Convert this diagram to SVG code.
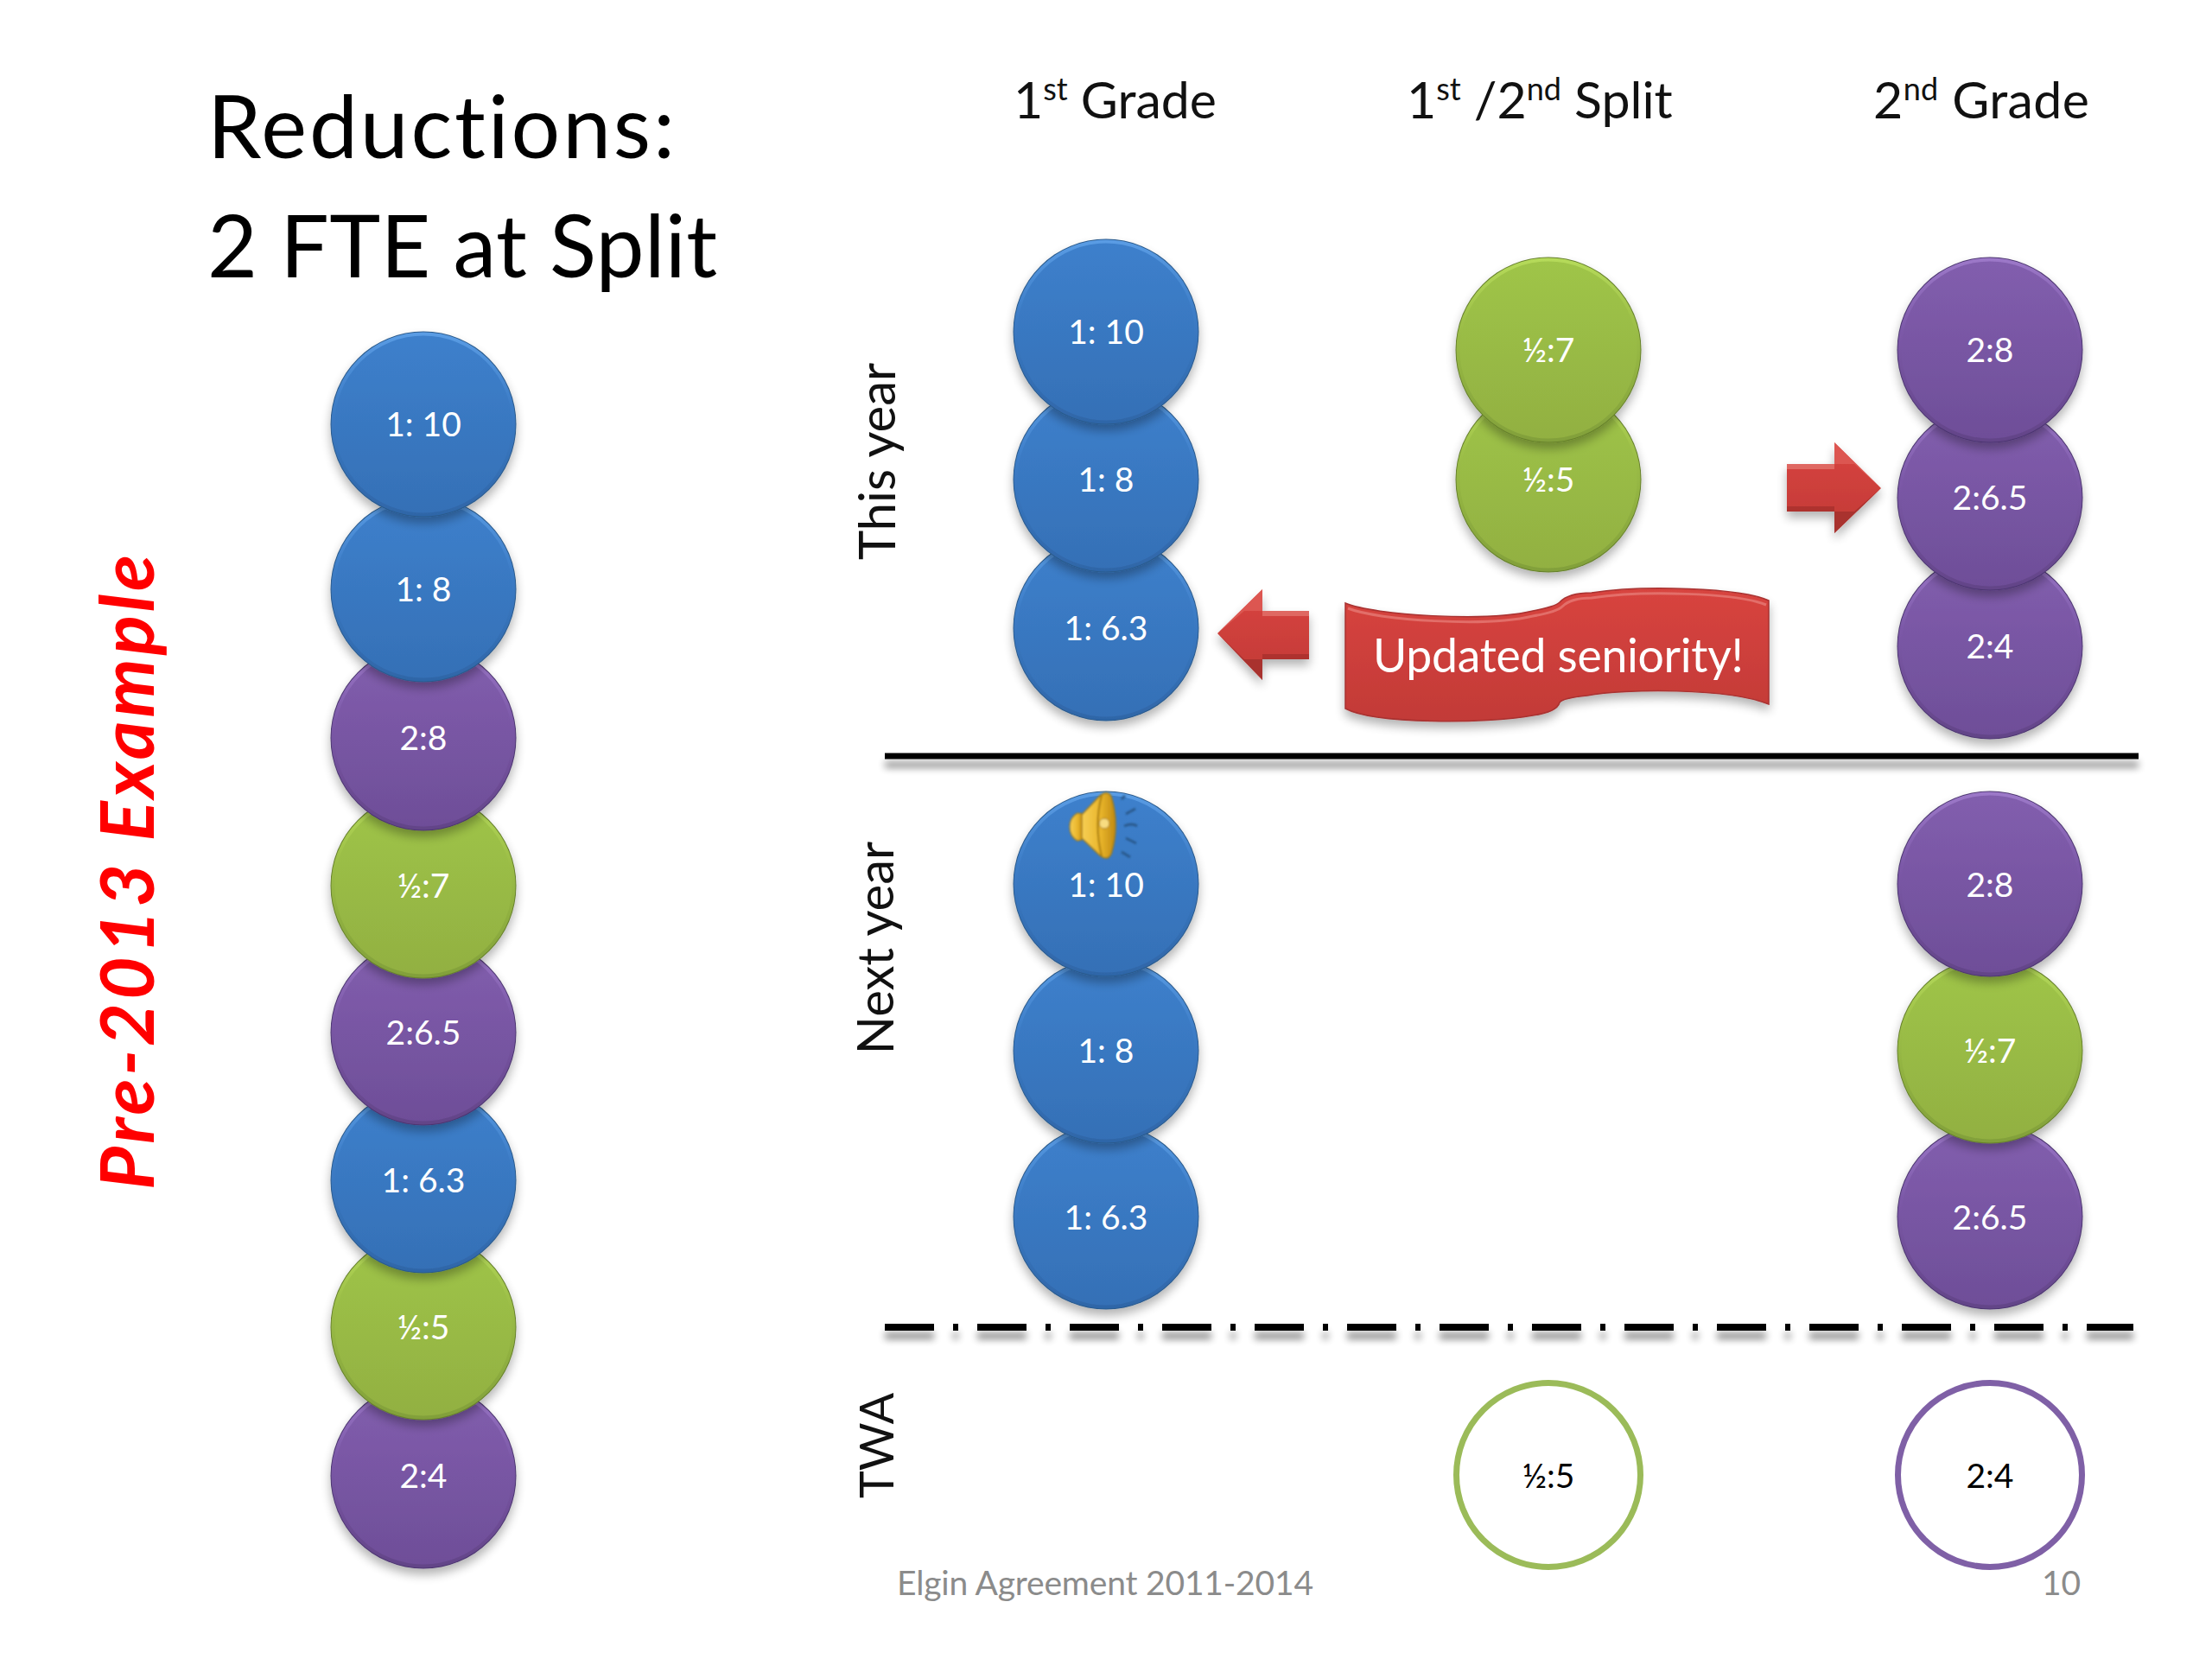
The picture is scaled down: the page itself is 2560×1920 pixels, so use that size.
<svg xmlns="http://www.w3.org/2000/svg" width="2560" height="1920" viewBox="0 0 2560 1920">
<style>
text{font-family:"Lato","Carlito","Open Sans",sans-serif;font-variant-ligatures:none}
.l{font-size:39px;fill:#fff;text-anchor:middle}
.k{font-size:39px;fill:#000;text-anchor:middle}
.h{font-size:59px;fill:#111}
.r{font-size:58px;fill:#111;text-anchor:middle}
.t{font-size:100px;fill:#000}
.f{font-size:39px;fill:#8b8b8b}
.sup{font-size:36px}
.s{filter:url(#soft)}
</style>
<defs>
<filter id="shadow" x="-20%" y="-20%" width="140%" height="140%"><feGaussianBlur in="SourceAlpha" stdDeviation="6"/><feOffset dy="7"/><feComponentTransfer><feFuncA type="linear" slope=".3"/></feComponentTransfer><feMerge><feMergeNode/><feMergeNode in="SourceGraphic"/></feMerge></filter>
<filter id="soft" x="-5%" y="-5%" width="110%" height="110%"><feGaussianBlur stdDeviation=".8"/></filter>
<filter id="lineshadow" x="-2%" y="-200%" width="104%" height="600%"><feGaussianBlur in="SourceAlpha" stdDeviation="4"/><feOffset dy="10"/><feComponentTransfer><feFuncA type="linear" slope=".45"/></feComponentTransfer><feMerge><feMergeNode/><feMergeNode in="SourceGraphic"/></feMerge></filter>
<linearGradient id="bf" x1="0" y1="0" x2="0" y2="1"><stop offset="0" stop-color="#3d80cc"/><stop offset="1" stop-color="#3570b6"/></linearGradient>
<linearGradient id="be" x1="0" y1="0" x2="0" y2="1"><stop offset="0" stop-color="#5a9ce4"/><stop offset=".4" stop-color="#3c7cc6"/><stop offset="1" stop-color="#2f66a8"/></linearGradient>
<linearGradient id="gf" x1="0" y1="0" x2="0" y2="1"><stop offset="0" stop-color="#9fc548"/><stop offset="1" stop-color="#92b042"/></linearGradient>
<linearGradient id="ge" x1="0" y1="0" x2="0" y2="1"><stop offset="0" stop-color="#b5da5a"/><stop offset=".4" stop-color="#9abc46"/><stop offset="1" stop-color="#82a03a"/></linearGradient>
<linearGradient id="pf" x1="0" y1="0" x2="0" y2="1"><stop offset="0" stop-color="#825eae"/><stop offset="1" stop-color="#6e4e98"/></linearGradient>
<linearGradient id="pe" x1="0" y1="0" x2="0" y2="1"><stop offset="0" stop-color="#9c78c8"/><stop offset=".4" stop-color="#7c59a8"/><stop offset="1" stop-color="#634488"/></linearGradient>
<linearGradient id="rf" x1="0" y1="0" x2="0" y2="1"><stop offset="0" stop-color="#d8443f"/><stop offset="1" stop-color="#c23a37"/></linearGradient>
<linearGradient id="gold" x1="0" y1="0" x2="1" y2="0"><stop offset="0" stop-color="#f7cf55"/><stop offset=".55" stop-color="#eab62c"/><stop offset="1" stop-color="#c08a12"/></linearGradient>
<g id="ball-b" filter="url(#shadow)"><circle r="107.5" fill="#2a5a8c"/><circle r="104.5" fill="url(#bf)" stroke="url(#be)" stroke-width="4"/></g>
<g id="ball-g" filter="url(#shadow)"><circle r="107.5" fill="#66802c"/><circle r="104.5" fill="url(#gf)" stroke="url(#ge)" stroke-width="4"/></g>
<g id="ball-p" filter="url(#shadow)"><circle r="107.5" fill="#4c3670"/><circle r="104.5" fill="url(#pf)" stroke="url(#pe)" stroke-width="4"/></g>
</defs>
<rect width="2560" height="1920" fill="#fff"/>
<g id="title"><text class="t" x="240" y="183" textLength="541" lengthAdjust="spacing">Reductions:</text><text class="t" x="240" y="321" textLength="590" lengthAdjust="spacing">2 FTE at Split</text></g>
<text id="pre2013" transform="translate(178 1377) rotate(-90)" font-size="86" font-weight="700" font-style="italic" fill="#f00" textLength="735">Pre-2013 Example</text>
<g id="headers">
<text class="h" x="1173" y="137">1<tspan class="sup" dy="-21">st</tspan><tspan dy="21"> Grade</tspan></text>
<text class="h" x="1628" y="137">1<tspan class="sup" dy="-21">st</tspan><tspan dy="21"> /2</tspan><tspan class="sup" dy="-21">nd</tspan><tspan dy="21"> Split</tspan></text>
<text class="h" x="2168" y="137" letter-spacing=".4">2<tspan class="sup" dy="-21">nd</tspan><tspan dy="21"> Grade</tspan></text>
</g>
<g id="rowlabels">
<text class="r" transform="translate(1036 534) rotate(-90)">This year</text>
<text class="r" transform="translate(1034 1097) rotate(-90)">Next year</text>
<text class="r" font-size="54" style="font-size:54px" transform="translate(1034 1673) rotate(-90)">TWA</text>
</g>
<g id="connectors" filter="url(#lineshadow)">
<line x1="1024" y1="875" x2="2475" y2="875" stroke="#000" stroke-width="7"/>
<line x1="1024" y1="1536" x2="2469" y2="1536" stroke="#000" stroke-width="8" stroke-dasharray="57 22 6 22"/>
</g>
<g id="pre-stack">
<g id="p8"><use href="#ball-p" x="490" y="1708"/><text class="l" x="490" y="1722">2:4</text></g>
<g id="p7"><use href="#ball-g" x="490" y="1536"/><text class="l" x="490" y="1550">½:5</text></g>
<g id="p6"><use href="#ball-b" x="490" y="1366"/><text class="l" x="490" y="1380">1: 6.3</text></g>
<g id="p5"><use href="#ball-p" x="490" y="1195"/><text class="l" x="490" y="1209">2:6.5</text></g>
<g id="p4"><use href="#ball-g" x="490" y="1025"/><text class="l" x="490" y="1039">½:7</text></g>
<g id="p3"><use href="#ball-p" x="490" y="854"/><text class="l" x="490" y="868">2:8</text></g>
<g id="p2"><use href="#ball-b" x="490" y="682"/><text class="l" x="490" y="696">1: 8</text></g>
<g id="p1"><use href="#ball-b" x="490" y="491"/><text class="l" x="490" y="505">1: 10</text></g>
</g>
<g id="this-first">
<g id="a3"><use href="#ball-b" x="1280" y="727"/><text class="l" x="1280" y="741">1: 6.3</text></g>
<g id="a2"><use href="#ball-b" x="1280" y="555"/><text class="l" x="1280" y="569">1: 8</text></g>
<g id="a1"><use href="#ball-b" x="1280" y="384"/><text class="l" x="1280" y="398">1: 10</text></g>
</g>
<g id="this-split">
<g id="b2"><use href="#ball-g" x="1792" y="555"/><text class="l" x="1792" y="569">½:5</text></g>
<g id="b1"><use href="#ball-g" x="1792" y="405"/><text class="l" x="1792" y="419">½:7</text></g>
</g>
<g id="this-second">
<g id="c3"><use href="#ball-p" x="2303" y="748"/><text class="l" x="2303" y="762">2:4</text></g>
<g id="c2"><use href="#ball-p" x="2303" y="576"/><text class="l" x="2303" y="590">2:6.5</text></g>
<g id="c1"><use href="#ball-p" x="2303" y="405"/><text class="l" x="2303" y="419">2:8</text></g>
</g>
<g id="next-first">
<g id="d3"><use href="#ball-b" x="1280" y="1408"/><text class="l" x="1280" y="1423">1: 6.3</text></g>
<g id="d2"><use href="#ball-b" x="1280" y="1216"/><text class="l" x="1280" y="1230">1: 8</text></g>
<g id="d1"><use href="#ball-b" x="1280" y="1023"/><text class="l" x="1280" y="1038">1: 10</text></g>
</g>
<g id="next-second">
<g id="e3"><use href="#ball-p" x="2303" y="1408"/><text class="l" x="2303" y="1423">2:6.5</text></g>
<g id="e2"><use href="#ball-g" x="2303" y="1216"/><text class="l" x="2303" y="1230">½:7</text></g>
<g id="e1"><use href="#ball-p" x="2303" y="1023"/><text class="l" x="2303" y="1038">2:8</text></g>
</g>
<g id="twa-split"><circle cx="1792" cy="1707" r="106.5" fill="#fff" stroke="#9bbb59" stroke-width="7"/><text class="k" x="1792" y="1722">½:5</text></g>
<g id="twa-second"><circle cx="2303" cy="1707" r="106.5" fill="#fff" stroke="#7f60a6" stroke-width="7"/><text class="k" x="2303" y="1722">2:4</text></g>
<g id="speaker" class="s">
<path d="M1298 925l4 -4M1303 942l11 -6M1301 956q9 -4 15 0M1303 970l12 6M1298 986l10 6" stroke="#2a5a8e" stroke-width="3" fill="none"/>
<path d="M1254 942l-7 -1q-9 5 -9 16q0 11 9 16l7 -2z" fill="url(#gold)" stroke="#a87c10" stroke-width="1.2"/>
<path d="M1252 943L1273 921Q1282 914 1286 922Q1296 955 1286 988Q1282 997 1273 990L1252 970Z" fill="url(#gold)" stroke="#a87c10" stroke-width="1.5"/>
<path d="M1275 920Q1266 955 1275 991" fill="none" stroke="#a87c10" stroke-width="2"/>
<circle cx="1278" cy="953" r="6" fill="#f8dc80" stroke="#a87c10"/>
</g>
<g id="arrow-left" filter="url(#shadow)"><path d="M1409 733L1461 682V707H1515V763H1461V787Z" fill="url(#rf)"/><path d="M1409 733L1461 682V707H1440Z" fill="#e0605a" opacity=".7"/><path d="M1409 733L1461 787V763H1440Z" fill="#9c2c2a" opacity=".7"/><path d="M1461 707H1515V713H1461Z" fill="#e8827c" opacity=".6"/><path d="M1461 757H1515V763H1461Z" fill="#9c2c2a" opacity=".6"/></g>
<g id="arrow-right" filter="url(#shadow)"><path d="M2068 537H2123V512L2177 565L2123 617V592H2068Z" fill="url(#rf)"/><path d="M2177 565L2123 512V537H2146Z" fill="#e0605a" opacity=".7"/><path d="M2177 565L2123 617V592H2146Z" fill="#9c2c2a" opacity=".7"/><path d="M2068 537H2123V543H2068Z" fill="#e8827c" opacity=".6"/><path d="M2068 586H2123V592H2068Z" fill="#9c2c2a" opacity=".6"/></g>
<g id="banner">
<path filter="url(#shadow)" d="M1557 698C1590 712 1720 720 1774 707Q1800 702 1805 697Q1815 686 1842 686C1900 677 2015 680 2047 695V815C2000 796 1880 797 1837 805Q1808 808 1805 813Q1802 824 1774 828C1720 838 1590 838 1557 820Z" fill="url(#rf)" stroke="#a83230" stroke-width="1.5"/>
<path d="M1560 704C1595 718 1720 726 1774 713Q1802 708 1808 702Q1818 692 1842 692C1900 683 2010 686 2044 700" fill="none" stroke="#e8827c" stroke-width="3" opacity=".7"/>
<text x="1589" y="778" font-size="53.5" fill="#fff" textLength="429">Updated seniority!</text>
</g>
<g id="footer"><text class="f" x="1038" y="1846" textLength="482">Elgin Agreement 2011-2014</text><text class="f" x="2363" y="1846">10</text></g>
</svg>
